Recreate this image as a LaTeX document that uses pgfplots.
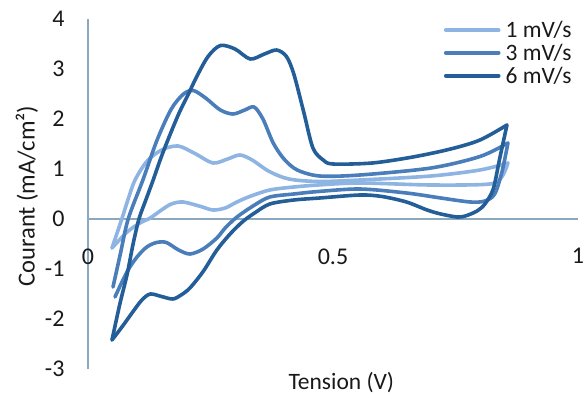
\documentclass[border=0pt]{standalone}
\usepackage{pgfplots}
\pgfplotsset{compat=1.18}
\usepackage{fontspec}
\setmainfont{Carlito}

\definecolor{cvlight}{RGB}{141,180,226}
\definecolor{cvmed}{RGB}{74,126,187}
\definecolor{cvdark}{RGB}{36,94,152}
\definecolor{axisgray}{RGB}{140,168,190}

\begin{document}
\begin{tikzpicture}
\begin{axis}[
  scale only axis, width=490pt, height=350pt,
  xmin=0, xmax=1, ymin=-3, ymax=4,
  axis x line=middle, axis y line=left,
  axis line style={-, draw=axisgray, line width=1.2pt},
  hide obscured x ticks=false, hide obscured y ticks=false,
  xtick={0,0.5,1}, xticklabels={0,0.5,1},
  ytick={-3,-2,-1,0,1,2,3,4}, yticklabels={-3,-2,-1,0,1,2,3,4},
  major tick length=0pt,
  tick label style={font=\fontsize{24}{28}\selectfont, text=black!90},
  xticklabel style={anchor=north, yshift=-26pt},
  yticklabel style={anchor=east, xshift=-20pt},
  xlabel={Tension (V)}, ylabel={Courant (mA/cm²)},
  label style={text=black!90},
  xlabel style={font=\fontsize{23.5}{28}\selectfont, at={(axis description cs:0.517,-0.04)}, anchor=center},
  ylabel style={font=\fontsize{24.5}{28}\selectfont, at={(axis description cs:-0.1245,0.494)}, anchor=center},
  legend style={at={(rel axis cs:0.726,1.0)}, anchor=north west, draw=none, fill=none,
    font=\fontsize{23.5}{27}\selectfont, text=black!90, row sep=1pt, inner sep=0pt},
  legend cell align=left,
  legend image code/.code={\draw[#1] (0pt,0pt) -- (53pt,0pt); \path (56pt,0pt);},
  every axis plot/.append style={smooth, tension=0.5, line width=3.6pt, line join=round, line cap=round},
]
% 1 mV/s : forward sweep, then reverse sweep
\addplot[cvlight] coordinates {
 (0.049,-0.58) (0.069,0.0) (0.082,0.4) (0.096,0.78) (0.12,1.15) (0.15,1.38) (0.184,1.46)
 (0.22,1.3) (0.255,1.12) (0.285,1.2) (0.31,1.28) (0.335,1.18) (0.37,0.95) (0.41,0.8)
 (0.47,0.75) (0.555,0.78) (0.7,0.86) (0.8,0.98) (0.857,1.12)};
\addlegendentry{1 mV/s}
\addplot[cvlight, forget plot] coordinates {
 (0.857,1.12) (0.845,0.85) (0.82,0.7) (0.7,0.68) (0.555,0.72) (0.47,0.68) (0.42,0.64)
 (0.371,0.58) (0.33,0.45) (0.304,0.34) (0.28,0.22) (0.255,0.18) (0.23,0.25) (0.194,0.34)
 (0.17,0.3) (0.15,0.18) (0.127,0.02) (0.106,-0.08) (0.08,-0.26) (0.049,-0.58)};
% 3 mV/s
\addplot[cvmed] coordinates {
 (0.051,-1.36) (0.066,-0.7) (0.082,0.0) (0.112,0.78) (0.141,1.58) (0.17,2.2) (0.195,2.5)
 (0.215,2.57) (0.24,2.42) (0.27,2.18) (0.296,2.1) (0.32,2.18) (0.339,2.24) (0.357,2.0)
 (0.378,1.52) (0.4,1.2) (0.427,0.98) (0.473,0.86) (0.555,0.88) (0.7,1.02) (0.8,1.25) (0.857,1.52)};
\addlegendentry{3 mV/s}
\addplot[cvmed, forget plot] coordinates {
 (0.857,1.52) (0.845,0.95) (0.83,0.5) (0.81,0.36) (0.78,0.34) (0.72,0.42) (0.65,0.52)
 (0.555,0.6) (0.47,0.55) (0.42,0.5) (0.371,0.44) (0.34,0.28) (0.304,0.04) (0.28,-0.18)
 (0.263,-0.38) (0.235,-0.6) (0.208,-0.7) (0.185,-0.62) (0.16,-0.47) (0.14,-0.47)
 (0.12,-0.56) (0.1,-0.76) (0.08,-1.05) (0.055,-1.56)};
% 6 mV/s
\addplot[cvdark] coordinates {
 (0.049,-2.42) (0.065,-1.7) (0.08,-1.1) (0.092,-0.5) (0.104,0.0) (0.118,0.38) (0.133,0.78)
 (0.148,1.2) (0.163,1.58) (0.185,2.1) (0.205,2.5) (0.222,2.85) (0.245,3.25) (0.27,3.47)
 (0.3,3.4) (0.331,3.2) (0.36,3.3) (0.385,3.38) (0.405,3.25) (0.42,2.9) (0.44,2.15)
 (0.459,1.42) (0.48,1.18) (0.5,1.1) (0.58,1.12) (0.663,1.24) (0.74,1.4) (0.8,1.58) (0.855,1.88)};
\addlegendentry{6 mV/s}
\addplot[cvdark, forget plot] coordinates {
 (0.855,1.88) (0.84,1.2) (0.827,0.6) (0.81,0.3) (0.794,0.16) (0.77,0.06) (0.753,0.04)
 (0.72,0.1) (0.692,0.18) (0.65,0.34) (0.6,0.45) (0.555,0.48) (0.473,0.42) (0.42,0.38)
 (0.371,0.3) (0.34,0.12) (0.316,-0.05) (0.29,-0.3) (0.263,-0.62) (0.235,-1.05) (0.208,-1.38)
 (0.19,-1.52) (0.173,-1.6) (0.15,-1.55) (0.127,-1.5) (0.11,-1.62) (0.092,-1.85) (0.07,-2.15) (0.049,-2.42)};
\end{axis}
\pgfresetboundingbox
\path[use as bounding box] (-88pt,-38pt) rectangle (498pt,369pt);
\end{tikzpicture}
\end{document}
